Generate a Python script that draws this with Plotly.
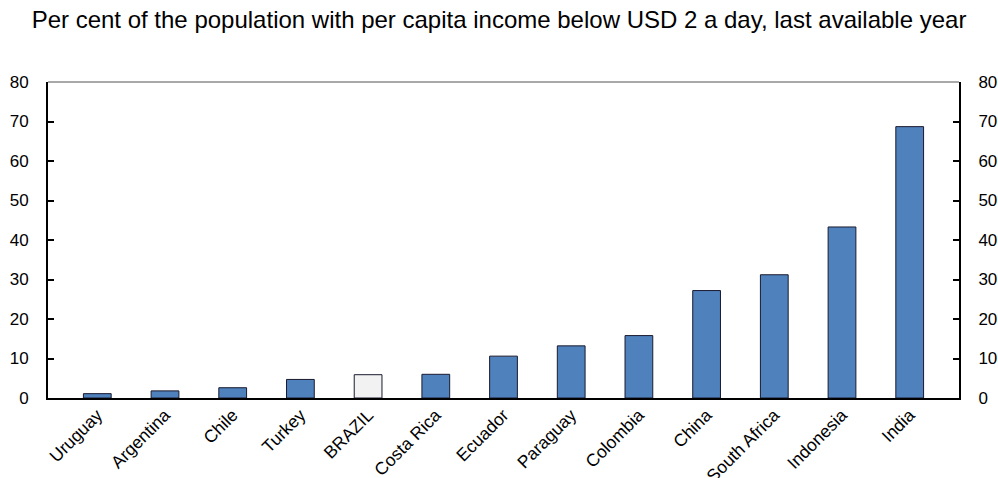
import plotly.graph_objects as go

countries = ["Uruguay", "Argentina", "Chile", "Turkey", "BRAZIL", "Costa Rica", "Ecuador",
             "Paraguay", "Colombia", "China", "South Africa", "Indonesia", "India"]
values = [1.1, 1.8, 2.6, 4.7, 5.9, 6.0, 10.6, 13.2, 15.8, 27.2, 31.2, 43.3, 68.7]
highlight = "BRAZIL"
y_ticks = [0, 10, 20, 30, 40, 50, 60, 70, 80]

colors = ["#F2F2F2" if c == highlight else "#4F81BD" for c in countries]

fig = go.Figure()
fig.add_trace(go.Bar(
    x=countries, y=values,
    marker=dict(color=colors, line=dict(color="#1a1a2e", width=1)),
    showlegend=False,
))
# invisible trace for the right axis
fig.add_trace(go.Scatter(x=countries, y=values, yaxis="y2", mode="markers",
                         marker=dict(opacity=0), showlegend=False, hoverinfo="skip"))

font = "Liberation Sans, Arial, sans-serif"
fig.update_layout(
    width=998, height=478,
    margin=dict(l=48, r=39, t=82, b=80, autoexpand=False),
    paper_bgcolor="white", plot_bgcolor="white",
    bargap=0.59,
    font=dict(family=font, size=16, color="black"),
    title=dict(text="Per cent of the population with per capita income below USD 2 a day, last available year",
               x=0.5, xanchor="center", y=0.958, yanchor="middle", automargin=False,
               font=dict(family=font, size=24, color="black")),
    xaxis=dict(showline=True, linecolor="black", linewidth=2, ticks="",
               tickangle=-45, tickfont=dict(size=17.5), showgrid=False, zeroline=False,
               ticklabelstandoff=-2, automargin=False),
    yaxis=dict(range=[0, 80], tickvals=y_ticks, showline=True, linecolor="black", linewidth=2,
               ticks="inside", ticklen=6, tickwidth=1.5, tickcolor="black",
               ticklabelstandoff=14,
               showgrid=False, zeroline=False, tickfont=dict(size=17), automargin=False),
    yaxis2=dict(range=[0, 80], tickvals=y_ticks, overlaying="y", side="right",
                showline=True, linecolor="black", linewidth=2,
                ticks="inside", ticklen=6, tickwidth=1.5, tickcolor="black",
                ticklabelstandoff=14,
                showgrid=False, zeroline=False, tickfont=dict(size=17), automargin=False),
    shapes=[dict(type="line", xref="paper", yref="paper", x0=0, x1=1, y0=1, y1=1,
                 line=dict(color="#555555", width=1.2))],
)

fig.write_html("out.html", config={"displayModeBar": False},
               post_script="document.body.style.margin='0';document.body.style.overflow='hidden';")
